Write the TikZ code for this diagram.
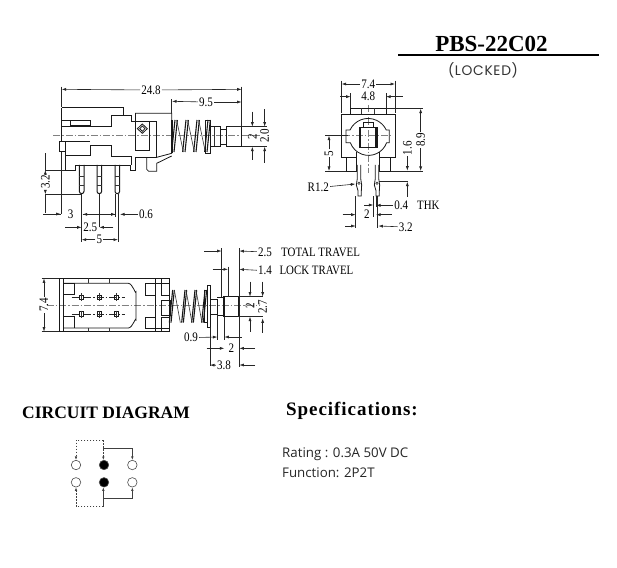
\documentclass[tikz,border=0pt]{standalone}
\usepackage{fontspec}
\usetikzlibrary{arrows.meta}
\setmainfont{Liberation Serif}
\newfontfamily\dimf[FakeStretch=0.85]{Liberation Serif}
\newfontfamily\dimw[FakeStretch=0.85]{Liberation Serif}
\newfontfamily\lockf[LetterSpace=5]{Poppins}
\newfontfamily\specf{Open Sans}
\newfontfamily\specb[LetterSpace=5]{Liberation Serif}
\tikzset{
  part/.style={draw=black!90,line width=0.8pt,line join=miter},
  thin part/.style={draw=black!80,line width=0.6pt},
  cl/.style={draw=black!50,line width=0.4pt,dash pattern=on 7pt off 2pt on 1.5pt off 2pt},
  ext/.style={draw=black!85,line width=0.6pt},
  arr/.style={draw=black!85,line width=0.6pt,-{Latex[length=4.5pt,width=3pt]}},
  dimtxt/.style={inner sep=1pt,text=black,font=\dimf\fontsize{13}{13}\selectfont},
  wordtxt/.style={inner sep=1pt,text=black,font=\dimw\fontsize{12.8}{13}\selectfont,anchor=west},
  terminal/.style={circle,draw=black!70,line width=0.6pt,minimum size=9.5pt,inner sep=0pt},
  closed/.style={terminal,fill=black},
  wire/.style={draw=black!75,line width=0.6pt,-{Latex[length=3.5pt,width=2.5pt]}},
  dashwire/.style={wire,dash pattern=on 1.7pt off 1.3pt},
  zoomA/.style={shift={(30,70)},x=0.33333pt,y=-0.33333pt},
  zoomB/.style={shift={(290,70)},x=0.33333pt,y=-0.33333pt},
  zoomC/.style={shift={(30,240)},x=0.33333pt,y=-0.33333pt},
  zoomD/.style={shift={(20,395)},x=0.33333pt,y=-0.33333pt}
}
\begin{document}
\begin{tikzpicture}[x=1pt,y=-1pt]
\useasboundingbox[fill=white] (0,0) rectangle (617,567);
% ---------- headings
\node[inner sep=0pt,font=\bfseries\fontsize{23}{23}\selectfont] (title) at (491.5,43.5) {PBS-22C02};
\draw[line width=2pt] (398,55) -- (599,55);
\node[inner sep=0pt,text=black!80,font=\lockf\fontsize{13.8}{14}\selectfont] (locked) at (483,70) {(LOCKED)};
\node[inner sep=0pt,anchor=west,font=\bfseries\fontsize{17.5}{18}\selectfont] (circuit) at (22,412.5) {CIRCUIT DIAGRAM};
\node[inner sep=0pt,anchor=west,font=\specb\bfseries\fontsize{19}{19}\selectfont] (spec) at (286,411) {Specifications:};
\node[inner sep=0pt,anchor=west,text=black!85,font=\specf\fontsize{13.3}{14}\selectfont] (rating) at (282,454) {Rating : 0.3A 50V DC};
\node[inner sep=0pt,anchor=west,text=black!85,font=\specf\fontsize{13.3}{14}\selectfont] (func) at (282,472.5) {Function: 2P2T};

% ---------- side view
\begin{scope}[zoomA]
\draw[cl] (70,195) -- (690,195);
\draw[part] (95,113) -- (280,113) -- (280,135) -- (305,135) -- (305,155) -- (380,155) -- (380,262) -- (315,262) -- (315,302) -- (300,302) -- (300,285) -- (135,285) -- (135,300) -- (105,300) -- (105,215);
\draw[part] (95,113) -- (95,215) -- (88,215) -- (88,245) -- (105,245);
\draw[part] (95,150) -- (180,150) -- (180,166) -- (120,166) -- (120,150);
\draw[part] (95,168) -- (243,168) -- (243,135) -- (280,135);
\draw[part] (95,215) -- (180,215);
\draw[part] (105,255) -- (180,255) -- (180,226) -- (243,226) -- (243,258) -- (305,258) -- (305,285);
\draw[part] (315,130) -- (425,130) -- (425,250) -- (380,262);
\draw[part] (315,130) -- (315,240) -- (358,240) -- (358,155);
\draw[part] (378,155) -- (378,255);
\draw[part] (337,162) -- (352,176) -- (337,190) -- (322,176) -- cycle;
\draw[part] (337,168) -- (345,176) -- (337,184) -- (329,176) -- cycle;
\draw[part] (350,262) -- (350,298) -- (356,304) -- (380,304) -- (380,280) -- (425,258);
% pins
\foreach \x/\n in {155/1,208/2,262/3}{
  \draw[part,line width=1pt] (\x-7,285) -- (\x-7,364) arc[start angle=180,end angle=0,radius=7] -- (\x+7,285);
  \draw[thin part] (\x-7,320) -- (\x+7,320) (\x-7,345) -- (\x+7,345);
}
% spring
\foreach \t in {432,465,498,531}{
  \draw[part,line width=1.1pt] (\t+3,150) -- (\t-7,246);
  \draw[part,line width=1.1pt] (\t+10,150) -- (\t,246);
}
\foreach \t in {440,473,506}{
  \draw[thin part] (\t,150) -- (\t+20,246);
}
\draw[part,line width=1.1pt] (426,150) -- (426,248);
\draw[part] (525,150) -- (540,150) -- (540,250) -- (525,250) -- cycle;
\draw[part] (540,170) -- (570,170) -- (570,228) -- (540,228);
\draw[part] (570,178) -- (590,178) -- (590,222) -- (570,222);
\draw[part,line width=1.1pt] (590,170) -- (635,170) -- (635,230) -- (590,230) -- cycle;
\draw[thin part] (552,170) -- (552,228);
% dimensions
\node[dimtxt] (d248) at (363,60) {24.8};
\draw[arr] (d248) -- (95,58);
\draw[arr] (d248) -- (635,58);
\draw[ext] (93,50) -- (93,110);
\draw[ext] (635,50) -- (635,170);
\node[dimtxt] (d95) at (528,96) {9.5};
\draw[arr] (d95) -- (426,94);
\draw[arr] (d95) -- (635,96);
\draw[ext] (425,88) -- (425,130);
\draw[ext] (635,170) -- (670,170);
\draw[ext] (635,230) -- (710,230);
\draw[ext] (600,170) -- (710,170);
\node[dimtxt,rotate=90] (d2a) at (667,199) {2};
\coordinate (t2a) at (667,170);
\coordinate (b2a) at (667,230);
\draw[arr] (667,125) -- (t2a);
\draw[arr] (667,270) -- (b2a);
\node[dimtxt,rotate=90] (d20) at (704,198) {2.0};
\coordinate (t20) at (704,170);
\coordinate (b20) at (704,230);
\draw[arr] (704,118) -- (t20);
\draw[arr] (704,278) -- (b20);
\node[dimtxt,rotate=90] (d32) at (46,335) {3.2};
\draw[arr] (d32) -- (46,300);
\draw[arr] (d32) -- (46,373);
\draw[ext] (46,250) -- (46,300);
\draw[ext] (46,300) -- (105,300);
\draw[ext] (46,373) -- (155,373);
\draw[ext] (46,373) -- (46,430);
\draw[ext] (40,432) -- (92,432);
\draw[ext] (93,245) -- (93,432);
\draw[arr] (60,432) -- (92,432);
\node[dimtxt] (d3) at (122,433) {3};
\draw[arr] (185,433) -- (158,433);
\draw[arr] (228,433) -- (257,433);
\draw[ext] (158,433) -- (257,433);
\node[dimtxt] (d06) at (348,433) {0.6};
\draw[arr] (d06) -- (270,433);
\draw[ext] (155,373) -- (155,515);
\draw[ext] (208,373) -- (208,470);
\draw[ext] (257,373) -- (257,440);
\draw[ext] (264,373) -- (264,515);
\node[dimtxt] (d25) at (181,472) {2.5};
\draw[arr] (105,472) -- (155,472);
\draw[arr] (250,472) -- (208,472);
\node[dimtxt] (d5) at (208,509) {5};
\draw[arr] (d5) -- (155,509);
\draw[arr] (d5) -- (264,509);
\end{scope}

% ---------- end view
\begin{scope}[zoomB]
\draw[cl] (235,105) -- (235,310);
\draw[cl] (160,197) -- (310,197);
\draw[part] (168,262) -- (155,262) -- (155,132) -- (315,132) -- (315,262) -- (302,262);
\draw[part] (182,132) -- (182,115) -- (288,115) -- (288,132);
\draw[thin part] (215,115) -- (215,132) (252,115) -- (252,132);
\draw[part] (168,218) -- (168,180) -- (180,180) arc[start angle=205,end angle=335,radius=60] -- (298,180) -- (298,218) -- (290,218) arc[start angle=20,end angle=160,radius=58] -- cycle;
\draw[part] (207,172) -- (262,172) -- (262,232) -- (207,232) -- cycle;
\draw[part,line width=1.4pt] (211,172) -- (211,232);
\draw[part,line width=1.4pt] (258,172) -- (258,232);
\draw[part] (220,172) -- (220,156) -- (250,156) -- (250,172);
\draw[part] (168,262) -- (168,303) -- (200,303) -- (200,246);
\draw[part] (200,262) -- (168,262);
\draw[part] (268,246) -- (268,303) -- (302,303) -- (302,262) -- (268,262);
\foreach \x in {207,261}{
  \draw[part] (\x-5,285) -- (\x-5,325) -- (\x-8,345) -- (\x-3,362) -- (\x-3,378) -- (\x+7,378) -- (\x+7,362) -- (\x+8,345) -- (\x+5,325) -- (\x+5,285);
  \draw[thin part] (\x,340) circle[radius=3.5];
}
% dims
\node[dimtxt] (e74) at (235,42) {7.4};
\draw[arr] (e74) -- (155,42);
\draw[arr] (e74) -- (315,42);
\draw[ext] (155,32) -- (155,130);
\draw[ext] (315,32) -- (315,130);
\node[dimtxt] (e48) at (235,80) {4.8};
\draw[arr] (150,80) -- (182,80);
\draw[arr] (338,80) -- (288,80);
\draw[ext] (182,70) -- (182,115);
\draw[ext] (288,70) -- (288,115);
\draw[ext] (288,115) -- (400,115);
\node[dimtxt,rotate=90] (e89) at (392,210) {8.9};
\draw[arr] (e89) -- (392,116);
\draw[arr] (e89) -- (392,303);
\draw[ext] (302,303) -- (400,303);
\node[dimtxt,rotate=90] (e16) at (352,235) {1.6};
\draw[arr] (e16) -- (352,302);
\draw[arr] (352,380) -- (352,335);
\draw[ext] (268,335) -- (355,335);
\node[dimtxt,rotate=90] (e5) at (117,250) {5};
\draw[arr] (e5) -- (117,197);
\draw[arr] (e5) -- (117,303);
\draw[ext] (105,197) -- (175,197);
\draw[ext] (105,303) -- (168,303);
\node[dimtxt] (eR) at (85,353) {R1.2};
\draw[arr] (eR) -- (196,342);
\node[dimtxt] (e04) at (334,406) {0.4};
\node[wordtxt] (ethk) at (378,406) {THK};
\draw[arr] (e04) -- (258,406);
\draw[arr] (222,405) -- (250,405);
\draw[ext] (250,378) -- (250,440);
\draw[ext] (258,378) -- (258,410);
\node[dimtxt] (e2) at (231,434) {2};
\draw[arr] (158,434) -- (197,434);
\draw[arr] (305,434) -- (258,434);
\draw[ext] (197,378) -- (197,475);
\draw[ext] (263,378) -- (263,475);
\node[dimtxt] (e32) at (347,471) {3.2};
\draw[arr] (e32) -- (265,468);
\draw[arr] (165,468) -- (197,468);
\end{scope}

% ---------- top view
\begin{scope}[zoomC]
\draw[cl] (50,197) -- (690,197);
\draw[part] (88,115) -- (418,115) -- (418,275) -- (88,275) -- cycle;
\draw[part] (100,115) -- (100,275);
\draw[part] (100,130) -- (295,130) to[out=0,in=-90] (318,155) -- (318,240) to[out=90,in=0] (295,264) -- (100,264);
\draw[part] (100,130) -- (132,130) -- (132,163) -- (100,163);
\draw[part] (100,230) -- (132,230) -- (132,264);
\draw[thin part] (175,115) -- (175,130) (237,115) -- (237,130) (175,264) -- (175,275) (237,264) -- (237,275);
\draw[part] (345,130) -- (375,130) -- (375,166) -- (345,166) -- cycle;
\draw[part] (345,232) -- (375,232) -- (375,264) -- (345,264) -- cycle;
\draw[part] (375,115) -- (375,275);
\draw[part] (345,130) -- (418,130) (345,264) -- (418,264);
\draw[part] (395,115) -- (395,166) -- (418,166);
\draw[part] (395,275) -- (395,232) -- (418,232);
\draw[part] (395,180) -- (422,180) -- (422,225) -- (395,225) -- cycle;
\draw[cl,draw=black!85] (125,172) -- (285,172) (125,222) -- (285,222);
\foreach \x in {153,207,260}{
  \foreach \y in {172,222}{
    \draw[part,line width=1pt] (\x-6,\y-7) rectangle (\x+6,\y+7);
  }
  \draw[thin part] (\x,160) -- (\x,182) (\x,212) -- (\x,235);
}
% spring
\foreach \t in {425,462,492,522}{
  \draw[part,line width=1.1pt] (\t+3,150) -- (\t-7,248);
  \draw[part,line width=1.1pt] (\t+8,150) -- (\t-2,248);
}
\foreach \t in {433,468,498}{
  \draw[thin part] (\t,150) -- (\t+18,248);
}
\draw[part] (523,150) -- (533,150) -- (533,248) -- (523,248) -- cycle;
\draw[part] (533,135) -- (542,135) -- (542,262) -- (533,262) -- cycle;
\draw[part] (542,178) -- (562,178) -- (562,222) -- (542,222);
\draw[part] (562,172) -- (582,172) -- (582,225) -- (562,225);
\draw[part,line width=1.1pt] (582,170) -- (625,170) -- (625,230) -- (582,230) -- cycle;
% dims
\node[dimtxt,rotate=90] (t74) at (42,195) {7.4};
\draw[arr] (t74) -- (42,115);
\draw[arr] (t74) -- (42,275);
\draw[ext] (35,115) -- (88,115);
\draw[ext] (35,275) -- (88,275);
\node[dimtxt] (t25) at (705,36) {2.5};
\node[wordtxt] (t25w) at (750,36) {TOTAL TRAVEL};
\draw[arr] (t25) -- (628,33);
\draw[arr] (522,33) -- (575,33);
\draw[ext] (575,25) -- (575,170);
\draw[ext] (628,25) -- (628,380);
\node[dimtxt] (t14) at (705,92) {1.4};
\node[wordtxt] (t14w) at (745,92) {LOCK TRAVEL};
\draw[arr] (t14) -- (628,88);
\draw[arr] (548,88) -- (594,88);
\draw[ext] (594,80) -- (594,170);
\draw[ext] (625,170) -- (700,170);
\draw[ext] (625,230) -- (700,230);
\node[dimtxt,rotate=90] (t2) at (660,198) {2};
\draw[arr] (660,125) -- (660,170);
\draw[arr] (660,275) -- (660,230);
\node[dimtxt,rotate=90] (t27) at (698,200) {2.7};
\draw[arr] (698,125) -- (698,170);
\draw[arr] (698,278) -- (698,235);
\node[dimtxt] (t09) at (483,293) {0.9};
\draw[arr] (t09) -- (562,291);
\draw[ext] (562,225) -- (562,300);
\draw[arr] (635,291) -- (583,291);
\draw[ext] (583,230) -- (583,300);
\node[dimtxt] (t20) at (604,325) {2};
\draw[arr] (530,325) -- (583,325);
\draw[arr] (675,325) -- (628,325);
\draw[ext] (540,262) -- (540,378);
\node[dimtxt] (t38) at (582,377) {3.8};
\draw[arr] (t38) -- (540,375);
\draw[arr] (675,375) -- (628,375);
\end{scope}

% ---------- circuit
\begin{scope}[zoomD]
\node[terminal] (a1) at (168,210) {};
\node[closed]   (a2) at (252,210) {};
\node[terminal] (a3) at (337,210) {};
\node[terminal] (b1) at (168,262) {};
\node[closed]   (b2) at (252,262) {};
\node[terminal] (b3) at (337,262) {};
\coordinate (topjoin) at (250,135);
\coordinate (botjoin) at (250,335);
\draw[dashwire] (topjoin) -- (168,135) -- (a1.north);
\draw[dashwire] (topjoin) -- (250,195);
\draw[wire] (250,160) -- (337,160) -- (a3.north);
\draw[dashwire] (botjoin) -- (168,335) -- (b1.south);
\draw[wire] (botjoin) -- (250,277);
\draw[wire] (250,310) -- (337,310) -- (b3.south);
\end{scope}
\end{tikzpicture}
\end{document}
